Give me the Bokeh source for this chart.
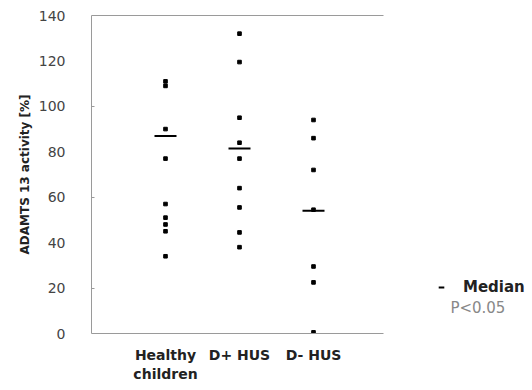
from bokeh.plotting import figure
from bokeh.models import Range1d, FixedTicker, Label, Legend, LegendItem, ColumnDataSource, LinearAxis
from bokeh.embed import file_html
from bokeh.resources import INLINE

# ---- data ----
categories = ["Healthy\nchildren", "D+ HUS", "D- HUS"]
cat_pos = [1, 2, 3]
healthy = [111, 109, 90, 77, 57, 51, 48, 45, 34]
d_plus_hus = [132, 119.5, 95, 84, 77, 64, 55.5, 44.5, 38]
d_minus_hus = [94, 86, 72, 54.5, 29.5, 22.5, 0.5]
medians = [87, 81.5, 54]
y_ticks = [0, 20, 40, 60, 80, 100, 120, 140]
y_small_ticks = [20, 60, 100]
y_title = "ADAMTS 13 activity [%]"
legend_median = "Median"
note_text = "P<0.05"
axis_end = 3.95   # data extent of the drawn box

xs, ys = [], []
for pos, vals in zip(cat_pos, [healthy, d_plus_hus, d_minus_hus]):
    xs += [pos] * len(vals)
    ys += vals
pts = ColumnDataSource(dict(x=xs, y=ys))
med = ColumnDataSource(dict(x=cat_pos, y=medians))

p = figure(frame_width=439, frame_height=318, x_range=Range1d(0, 439 / 74), y_range=Range1d(0, 140),
           output_backend="svg", toolbar_location=None,
           min_border_left=91, min_border_right=1, min_border_top=15, min_border_bottom=49)
p.outline_line_color = None
p.xgrid.visible = False
p.ygrid.visible = False
p.background_fill_color = "white"

p.scatter("x", "y", source=pts, marker="square", size=3.6, color="black")
mr = p.scatter("x", "y", source=med, marker="dash", size=22, line_color="black", line_width=2)

axis_col = "#9a9a9a"
# y axis
p.yaxis.ticker = FixedTicker(ticks=y_ticks, minor_ticks=y_small_ticks)
p.yaxis.major_tick_in = 0
p.yaxis.major_tick_out = 0
p.yaxis.minor_tick_in = 3
p.yaxis.minor_tick_out = 0
p.yaxis.minor_tick_line_color = axis_col
p.yaxis.axis_line_color = axis_col
p.yaxis.axis_line_width = 1
p.yaxis.major_label_standoff = 26
p.yaxis.major_label_text_font = "DejaVu Sans"
p.yaxis.major_label_text_font_size = "14px"
p.yaxis.major_label_text_color = "#444444"
p.yaxis.axis_label = y_title
p.yaxis.axis_label_standoff = 4
p.yaxis.axis_label_text_font = "DejaVu Sans"
p.yaxis.axis_label_text_font_style = "bold"
p.yaxis.axis_label_text_font_size = "12px"
p.yaxis.axis_label_text_color = "#222222"

# x axis
p.xaxis.bounds = (0, axis_end)
p.xaxis.ticker = FixedTicker(ticks=cat_pos)
p.xaxis.major_label_overrides = {pos: lab for pos, lab in zip(cat_pos, categories)}
p.xaxis.major_tick_line_color = None
p.xaxis.minor_tick_line_color = None
p.xaxis.axis_line_color = axis_col
p.xaxis.axis_line_width = 1
p.xaxis.major_label_standoff = 7
p.xaxis.major_label_text_font = "DejaVu Sans"
p.xaxis.major_label_text_font_style = "bold"
p.xaxis.major_label_text_font_size = "14px"
p.xaxis.major_label_text_color = "#222222"

# top border as a bare axis
top = LinearAxis(bounds=(0, axis_end), ticker=FixedTicker(ticks=[]),
                 axis_line_color=axis_col, axis_line_width=1,
                 major_tick_line_color=None, minor_tick_line_color=None,
                 major_label_text_font_size="0px")
p.add_layout(top, "above")

# legend
leg = Legend(items=[LegendItem(label=legend_median, renderers=[mr])],
             location=(340, 37), border_line_color=None, background_fill_alpha=0,
             padding=0, margin=0, glyph_width=20, glyph_height=14, label_standoff=12,
             label_text_font="DejaVu Sans", label_text_font_style="bold",
             label_text_font_size="15px", label_text_color="#222222")
p.add_layout(leg)

p.add_layout(Label(x=4.85, y=11.4, text=note_text, text_align="left", text_baseline="middle",
                   text_font="DejaVu Sans", text_font_size="15px", text_color="#888888"))

open("out.html", "w").write(file_html(p, INLINE))
